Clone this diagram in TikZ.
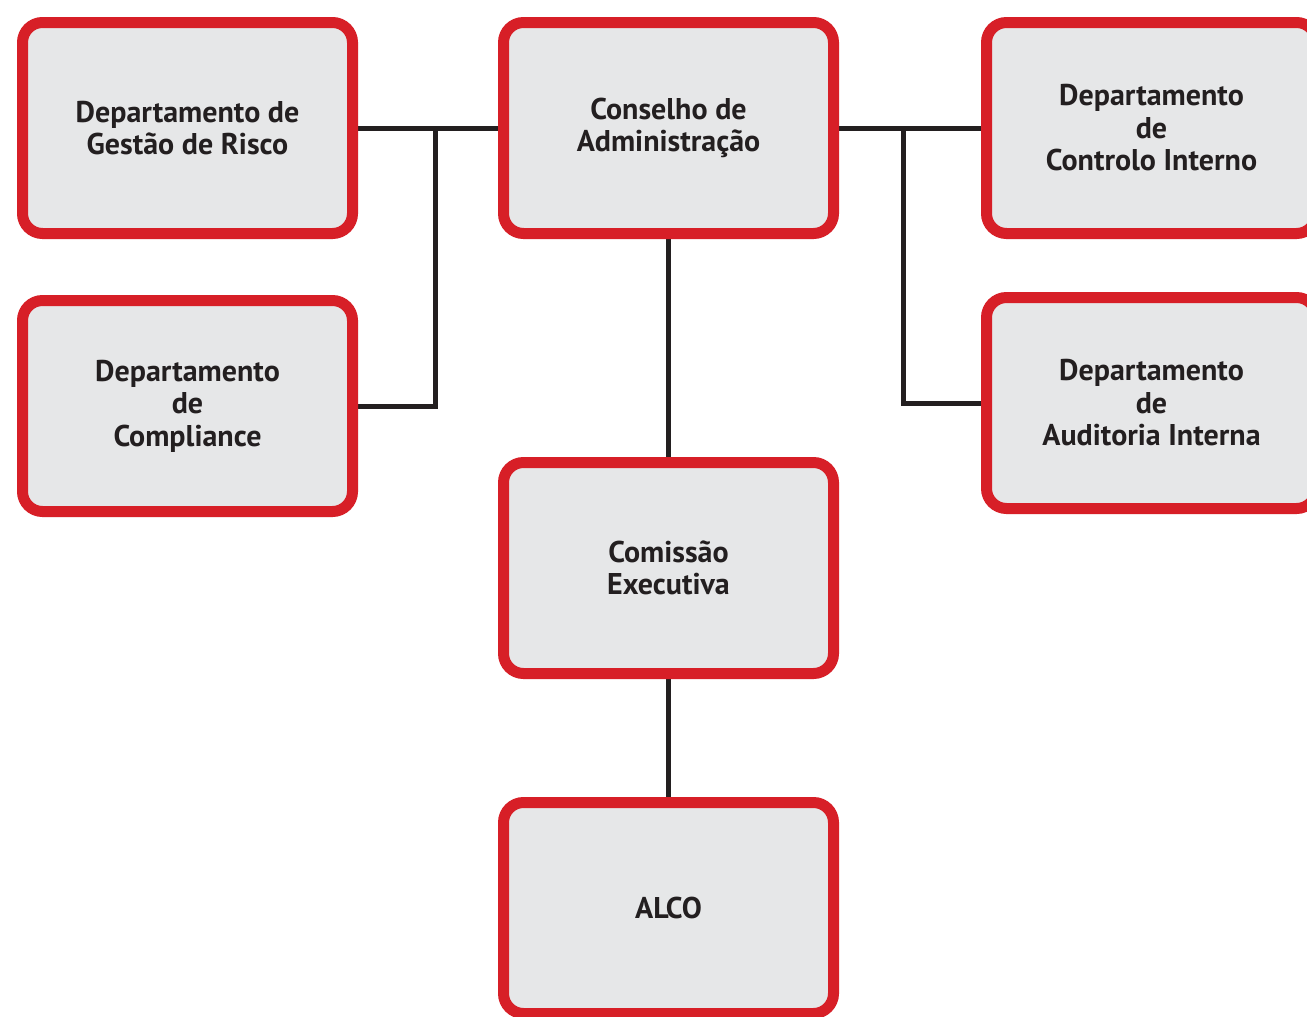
\documentclass[tikz,border=0pt]{standalone}
\usepackage{fontspec}
\setmainfont{PT Sans}
\usetikzlibrary{backgrounds}
\definecolor{boxred}{HTML}{D71F27}
\definecolor{boxfill}{HTML}{E6E7E8}
\definecolor{ink}{HTML}{231F20}
\tikzset{
  orgbox/.style={draw=boxred, fill=boxfill, line width=11pt, rounded corners=20pt,
    minimum width=330pt, minimum height=211pt, align=center, text=ink,
    font=\bfseries\fontsize{30}{32.5}\selectfont, inner sep=0pt},
  link/.style={draw=ink, line width=5pt}
}
\begin{document}
\begin{tikzpicture}[x=1pt,y=-1pt]
\useasboundingbox (0,0) rectangle (1307,1017);
\clip (0,0) rectangle (1307,1017);
\node[orgbox] (gr) at (187.5,128) {Departamento de\\Gestão de Risco};
\node[orgbox] (ca) at (668.5,128) {Conselho de\\Administração};
\node[orgbox] (ci) at (1151.5,128) {Departamento\\de\\Controlo Interno};
\node[orgbox] (co) at (187.5,406) {Departamento\\de\\Compliance};
\node[orgbox] (ai) at (1151.5,403) {Departamento\\de\\Auditoria Interna};
\node[orgbox] (ce) at (668.5,568) {Comissão\\Executiva};
\node[orgbox] (al) at (668.5,908) {ALCO};
\coordinate (jl) at (435,128);
\coordinate (jr) at (903,128);
\begin{scope}[on background layer]
\fill[white] (0,0) rectangle (1307,1017);
\draw[link] (gr.east) -- (ca.west);
\draw[link] (ca.east) -- (ci.west);
\draw[link] (jl) |- (co.east);
\draw[link] (jr) |- (ai.west);
\draw[link] (ca.south) -- (ce.north);
\draw[link] (ce.south) -- (al.north);
\end{scope}
\end{tikzpicture}
\end{document}
